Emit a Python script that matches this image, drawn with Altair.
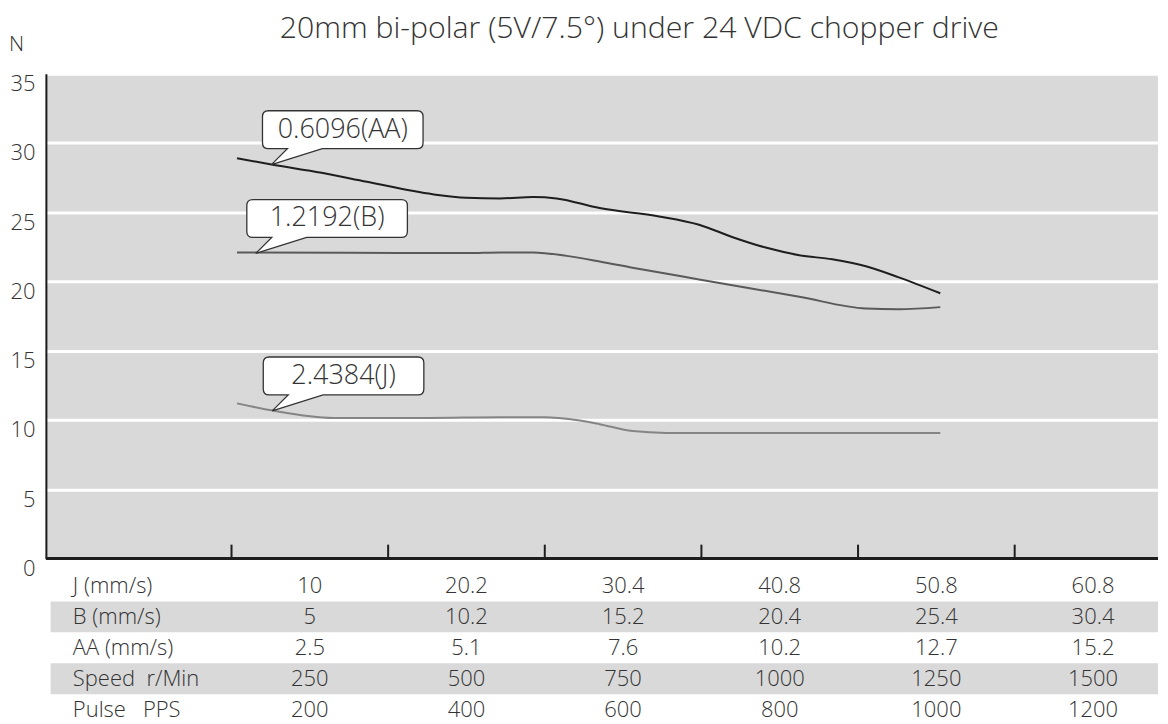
import altair as alt
import pandas as pd

TITLE = "20mm bi-polar (5V/7.5°) under 24 VDC chopper drive"
Y_TITLE = "N"
Y_TICKS = [0, 5, 10, 15, 20, 25, 30, 35]

# curves (x in pulses per second, y in N)
aa_pps = [107, 151, 215, 273, 357, 400, 443, 485, 515, 570, 646, 697, 740, 782, 825, 867, 910, 952, 1005]
aa_n = [28.9, 28.45, 27.85, 27.2, 26.3, 26.05, 26.0, 26.1, 26.0, 25.3, 24.7, 24.1, 23.2, 22.45, 21.9, 21.6, 21.1, 20.3, 19.15]

b_pps = [107, 250, 400, 443, 485, 528, 570, 612, 697, 825, 910, 952, 1005]
b_n = [22.1, 22.08, 22.05, 22.1, 22.1, 21.85, 21.45, 21.0, 20.15, 18.9, 18.05, 18.0, 18.15]

j_pps = [107, 151, 230, 350, 443, 500, 540, 570, 612, 655, 800, 900, 1005]
j_n = [11.2, 10.7, 10.15, 10.15, 10.2, 10.2, 10.0, 9.7, 9.2, 9.07, 9.07, 9.07, 9.07]

# callouts
callout_series = ["AA", "B", "J"]
callout_labels = ["0.6096(AA)", "1.2192(B)", "2.4384(J)"]
callout_pps = [151, 131, 152]
callout_n = [28.44, 22.03, 10.66]

# column boundaries (tick marks)
tick_pps = [100, 300, 500, 700, 900, 1100]

# table below chart
row_labels = ["J (mm/s)", "B (mm/s)", "AA (mm/s)", "Speed\u00a0\u00a0r/Min", "Pulse\u00a0\u00a0\u00a0PPS"]
col_pps = [200, 400, 600, 800, 1000, 1200]
j_speed = ["10", "20.2", "30.4", "40.8", "50.8", "60.8"]
b_speed = ["5", "10.2", "15.2", "20.4", "25.4", "30.4"]
aa_speed = ["2.5", "5.1", "7.6", "10.2", "12.7", "15.2"]
speed_rpm = ["250", "500", "750", "1000", "1250", "1500"]
pulse_pps = ["200", "400", "600", "800", "1000", "1200"]
shaded_rows = [row_labels[1], row_labels[3]]

X_DOMAIN = [-137, 1283]
LABEL_X = -102.6
SHADE_X = -131

W = 1115
H = 486
ROW_H = 31

FONT = "Open Sans"
TXT = "#333333"

xscale = alt.Scale(domain=X_DOMAIN, nice=False, zero=False)
yscale = alt.Scale(domain=[0, 35], nice=False, zero=True)

lines_df = pd.concat([
    pd.DataFrame({"series": "AA", "pps": aa_pps, "n": aa_n}),
    pd.DataFrame({"series": "B", "pps": b_pps, "n": b_n}),
    pd.DataFrame({"series": "J", "pps": j_pps, "n": j_n}),
], ignore_index=True)

lines = alt.Chart(lines_df).mark_line(interpolate="monotone", strokeWidth=2).encode(
    x=alt.X("pps:Q", scale=xscale, axis=None),
    y=alt.Y("n:Q", scale=yscale, axis=alt.Axis(
        values=Y_TICKS, grid=True, gridColor="white", gridWidth=3, gridOpacity=1,
        domainColor="#1a1a1a", domainWidth=2, ticks=False,
        labelFont=FONT, labelFontSize=22, labelFontWeight=300, labelColor=TXT,
        labelBaseline="top", labelPadding=11,
        title=Y_TITLE, titleAngle=0, titleX=-30, titleY=-29, titleAlign="center",
        titleBaseline="middle", titleFont=FONT, titleFontSize=21, titleFontWeight=300,
        titleColor=TXT)),
    color=alt.Color("series:N", legend=None,
                    scale=alt.Scale(domain=["AA", "B", "J"], range=["#1e1e1e", "#5a5a5a", "#858585"])),
    detail="series:N",
)

base_df = pd.DataFrame({"y": [0]})
bottom = alt.Chart(base_df).mark_rule(color="#1e1e1e", strokeWidth=3).encode(
    y=alt.Y("y:Q", scale=yscale)
)

ticks_df = pd.DataFrame({"pps": tick_pps, "y0": 0, "y1": 1.0})
ticks = alt.Chart(ticks_df).mark_rule(color="#1e1e1e", strokeWidth=2).encode(
    x=alt.X("pps:Q", scale=xscale), y=alt.Y("y0:Q", scale=yscale), y2="y1:Q"
)

callout_path = ("M -3,-54 L 146,-54 Q 152,-54 152,-48 L 152,-22 Q 152,-16 146,-16 "
                "L 51,-16 L 0,0 L 16,-16 L -3,-16 Q -9,-16 -9,-22 L -9,-48 Q -9,-54 -3,-54 Z")
call_df = pd.DataFrame({"series": callout_series, "label": callout_labels,
                        "pps": callout_pps, "n": callout_n})
boxes = alt.Chart(call_df).mark_point(
    shape=callout_path, size=4, filled=True, fill="white", fillOpacity=1,
    stroke="#333333", strokeWidth=1.3, strokeOpacity=1, opacity=1
).encode(x=alt.X("pps:Q", scale=xscale), y=alt.Y("n:Q", scale=yscale))

box_text = alt.Chart(call_df).mark_text(
    dx=71.5, dy=-35, align="center", baseline="middle", font=FONT,
    fontSize=27, fontWeight=300, color=TXT
).encode(x=alt.X("pps:Q", scale=xscale), y=alt.Y("n:Q", scale=yscale), text="label:N")

top = alt.layer(lines, bottom, ticks, boxes, box_text).properties(
    width=W, height=H, view=alt.ViewBackground(fill="#d9d9d9", stroke=None)
)

# table
rows_all = []
for lab, vals in zip(row_labels, [j_speed, b_speed, aa_speed, speed_rpm, pulse_pps]):
    for p, v in zip(col_pps, vals):
        rows_all.append({"row": lab, "pps": p, "val": v})
vals_df = pd.DataFrame(rows_all)
lab_df = pd.DataFrame({"row": row_labels, "x": LABEL_X})
shade_df = pd.DataFrame({"row": shaded_rows, "x0": SHADE_X, "x1": X_DOMAIN[1]})

yrow = alt.Scale(domain=row_labels, paddingInner=0, paddingOuter=0)

shade = alt.Chart(shade_df).mark_rect(color="#d9d9d9").encode(
    x=alt.X("x0:Q", scale=xscale, axis=None), x2="x1:Q",
    y=alt.Y("row:N", scale=yrow, axis=None)
)
labs = alt.Chart(lab_df).mark_text(align="left", baseline="middle", font=FONT,
                                     fontSize=22, fontWeight=300, color=TXT).encode(
    x=alt.X("x:Q", scale=xscale, axis=None),
    y=alt.Y("row:N", scale=yrow, axis=None, bandPosition=0.5), text="row:N"
)
vals = alt.Chart(vals_df).mark_text(align="center", baseline="middle", font=FONT,
                                      fontSize=22, fontWeight=300, color=TXT).encode(
    x=alt.X("pps:Q", scale=xscale, axis=None),
    y=alt.Y("row:N", scale=yrow, axis=None, bandPosition=0.5), text="val:N"
)
table = alt.layer(shade, labs, vals).properties(
    width=W, height=ROW_H * len(row_labels), view=alt.ViewBackground(stroke=None)
)

chart = alt.vconcat(top, table, spacing=12, bounds="flush").properties(
    title=alt.TitleParams(TITLE, font=FONT, fontSize=30.3, fontWeight=300, color=TXT,
                          anchor="start", dx=272, offset=-10),
    padding={"left": 0, "top": 4, "right": 0, "bottom": 0},
    background="white",
)

chart.save("out.html", embed_options={"renderer": "svg", "actions": False})
